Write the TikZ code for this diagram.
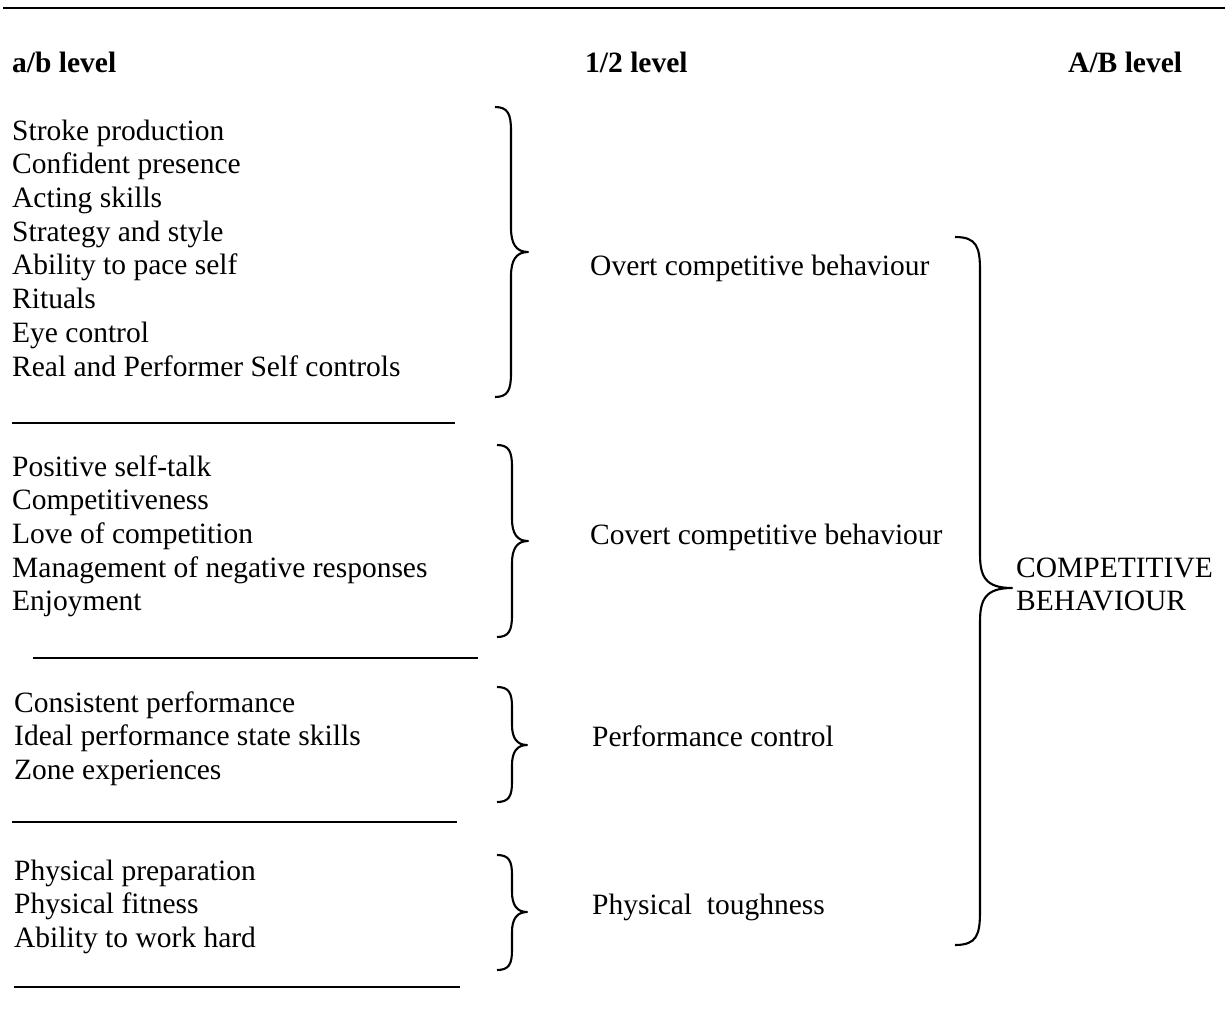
\documentclass[tikz,border=0pt]{standalone}
\usepackage{fontspec}
\setmainfont{Liberation Serif}
\begin{document}
\begin{tikzpicture}[x=1pt,y=-1pt,
  item/.style={anchor=base west,inner sep=0pt,font=\fontsize{29.5}{33.7}\selectfont},
  head/.style={item,font=\fontsize{29.5}{33.7}\selectfont\bfseries},
  rule/.style={line width=1.5pt},
  bracepath/.style={line width=2.1pt,line join=round}]
\useasboundingbox (0,0) rectangle (1226,1015);

% curly brace: left end x, stem x, tip x, top y, tip y, bottom y, curl length
\newcommand\cbrace[7]{%
  \draw[bracepath] (#1,#4)
    .. controls ({#2-3},#4) and (#2,{#4+0.3*#7}) .. (#2,{#4+#7})
    -- (#2,{#5-#7})
    .. controls (#2,{#5-0.35*#7}) and ({#2+5},#5) .. (#3,#5)
    .. controls ({#2+5},#5) and (#2,{#5+0.35*#7}) .. (#2,{#5+#7})
    -- (#2,{#6-#7})
    .. controls (#2,{#6-0.3*#7}) and ({#2-3},#6) .. (#1,#6);}

% top rule
\draw[rule] (3,8) -- (1225,8);

% column headings
\node[head] (hab) at (12,72) {a/b level};
\node[head] (h12) at (585,72) {1/2 level};
\node[head] (hAB) at (1068,72) {A/B level};

% group 1
\node[item] (g1a) at (12,140) {Stroke production};
\node[item] (g1b) at (12,173.7) {Confident presence};
\node[item] (g1c) at (12,207.4) {Acting skills};
\node[item] (g1d) at (12,241) {Strategy and style};
\node[item] (g1e) at (12,274.8) {Ability to pace self};
\node[item] (g1f) at (12,308.5) {Rituals};
\node[item] (g1g) at (12,342) {Eye control};
\node[item] (g1h) at (12,376) {Real and Performer Self controls};
\cbrace{495}{511}{528}{107}{252}{397}{24}
\node[item] (m1) at (590,275) {Overt competitive behaviour};
\draw[rule] (12,423) -- (455,423);

% group 2
\node[item] (g2a) at (12,476) {Positive self-talk};
\node[item] (g2b) at (12,509.7) {Competitiveness};
\node[item] (g2c) at (12,543.4) {Love of competition};
\node[item] (g2d) at (12,577) {Management of negative responses};
\node[item] (g2e) at (12,610.7) {Enjoyment};
\cbrace{497}{512}{528}{445}{541}{637}{22}
\node[item] (m2) at (590,544) {Covert competitive behaviour};
\draw[rule] (33,658) -- (478,658);

% group 3
\node[item] (g3a) at (14,712) {Consistent performance};
\node[item] (g3b) at (14,745.7) {Ideal performance state skills};
\node[item] (g3c) at (14,779.4) {Zone experiences};
\cbrace{497}{512}{527}{687}{745}{802}{20}
\node[item] (m3) at (592,746) {Performance control};
\draw[rule] (12,822) -- (457,822);

% group 4
\node[item] (g4a) at (14,880) {Physical preparation};
\node[item] (g4b) at (14,913.7) {Physical fitness};
\node[item] (g4c) at (14,947.4) {Ability to work hard};
\cbrace{497}{512}{527}{855}{912}{970}{20}
\node[item] (m4) at (592,914) {Physical\ \ toughness};
\draw[rule] (14,987) -- (460,987);

% overall brace and label
\cbrace{955}{980}{1012}{237}{588}{945}{34}
\node[item] (t1) at (1016,577) {COMPETITIVE};
\node[item] (t2) at (1016,610.7) {BEHAVIOUR};
\end{tikzpicture}
\end{document}
